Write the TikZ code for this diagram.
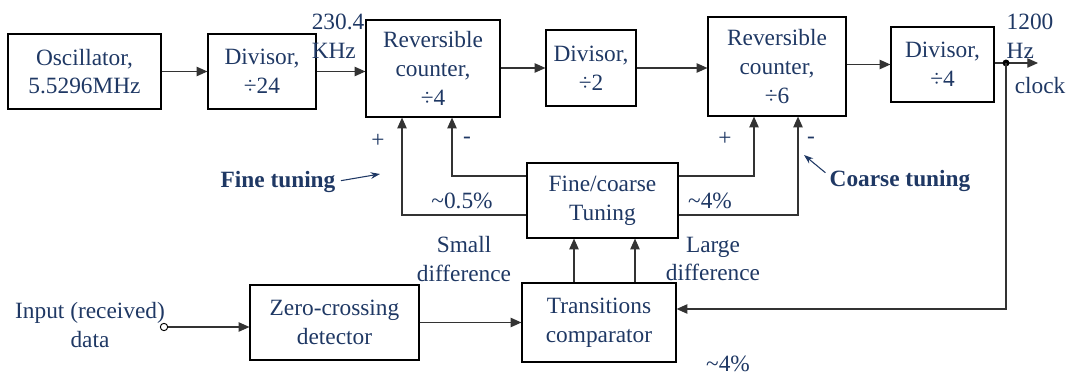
\documentclass[tikz,border=0pt]{standalone}
\usepackage{fontspec}
\setmainfont{Liberation Serif}
\newfontfamily\labelfont{Liberation Serif}
\usetikzlibrary{arrows.meta}
\definecolor{txtblue}{HTML}{1F3864}

\begin{document}
\begin{tikzpicture}[x=0.75pt,y=-0.75pt,
		every node/.style={text=txtblue,font=\labelfont\fontsize{17.5}{21.5}\selectfont},
		block/.style={draw=black,line width=0.9pt,align=center,inner sep=0pt},
		link/.style={draw=black!80,line width=0.8pt,-{Triangle[length=8pt,width=7pt]}},
		note/.style={align=center,inner sep=0pt},
		hint/.style={draw=txtblue,line width=0.8pt,-{Stealth[length=7pt,width=5pt]}}]

		\useasboundingbox (0,0) rectangle (1073,377);

		% Define the blocks
		\node[block,minimum width=114.75pt,minimum height=56.25pt] (osc) at (84.5,71.5) {Oscillator,\\5.5296MHz};
		\node[block,minimum width=81pt,minimum height=56.25pt] (div24) at (262,71.5) {Divisor,\\÷24};
		\node[block,minimum width=100.5pt,minimum height=72.75pt] (rc4) at (433,68.5) {Reversible\\counter,\\÷4};
		\node[block,minimum width=67.5pt,minimum height=57pt] (div2) at (591,68) {Divisor,\\÷2};
		\node[block,minimum width=103.5pt,minimum height=74.25pt] (rc6) at (777,66.5) {Reversible\\counter,\\÷6};
		\node[block,minimum width=77.25pt,minimum height=56.25pt] (div4) at (942.5,64.5) {Divisor,\\÷4};
		\node[block,minimum width=113.25pt,minimum height=56.25pt] (tune) at (602.5,200.5) {Fine/coarse\\Tuning};
		\node[block,minimum width=126.75pt,minimum height=56.25pt] (zcd) at (334.5,322.5) {Zero-crossing\\detector};
		\node[block,minimum width=115.5pt,minimum height=59.25pt] (comp) at (599,322.5) {Transitions\\comparator};

		% Define the coordinates of the bends
		\coordinate (tap) at (1006,63);
		\coordinate (clk) at (1038,63);
		\coordinate (fb) at (1006,309);
		\coordinate (P1) at (402,215);
		\coordinate (P2) at (452,176);
		\coordinate (P3) at (754,176);
		\coordinate (P4) at (798,215);
		\coordinate (Q1) at (574,270);
		\coordinate (Q2) at (635,270);

		% Input terminal
		\node[circle,draw=black,fill=white,line width=0.7pt,inner sep=0pt,minimum size=5.5pt] (in) at (164,327) {};

		% Draw the lines
		\draw[link] (osc) -- (div24);
		\draw[link] (div24.east) -- (div24.east -| rc4.west);
		\draw[link] (rc4.east |- div2) -- (div2.west);
		\draw[link] (div2) -- (div2 -| rc6.west);
		\draw[link] (rc6.east |- div4) -- (div4.west);
		\draw[link] (div4.east |- tap) -- (clk);
		\fill[black] (tap) circle (2.6pt);
		\draw[link] (tap) -- (fb) -- (fb -| comp.east);
		\draw[link] (tune.west |- P1) -| (P1 |- rc4.south);
		\draw[link] (tune.west |- P2) -| (P2 |- rc4.south);
		\draw[link] (tune.east |- P3) -| (P3 |- rc6.south);
		\draw[link] (tune.east |- P4) -| (P4 |- rc6.south);
		\draw[link] (comp.north -| Q1) -- (tune.south -| Q1);
		\draw[link] (comp.north -| Q2) -- (tune.south -| Q2);
		\draw[link] (in) -- (in -| zcd.west);
		\draw[link] (zcd.east) -- (zcd.east -| comp.west);

		% Labels
		\node[note,align=left] (fin) at (338,36) {230.4\\KHz};
		\node[note,align=left] (fout) at (1030,36) {1200\\Hz};
		\node[note] (clock) at (1040,86) {clock};
		\node[note] (input) at (90,325) {Input (received)\\data};
		\node[note] (small) at (464,259) {Small\\difference};
		\node[note] (large) at (713,259) {Large\\difference};
		\node[note] (fine) at (462,201) {\textasciitilde0.5\%};
		\node[note] (coarse) at (710,201) {\textasciitilde4\%};
		\node[note] (extra) at (728,364) {\textasciitilde4\%};
		\foreach \sgn/\x/\y in {+/378/141, -/467/140, +/725/139, -/811/140}
			\node[note] (sign\x) at (\x,\y) {\sgn};

		\node[note,font=\labelfont\fontsize{17.5}{21.5}\selectfont\bfseries] (finetxt) at (278,182) {Fine tuning};
		\node[note,font=\labelfont\fontsize{17.5}{21.5}\selectfont\bfseries] (coarsetxt) at (900,181) {Coarse tuning};
		\coordinate (fineend) at (380,174);
		\coordinate (coarseend) at (804,155);
		\draw[hint] (finetxt.east) ++(4pt,1pt) coordinate (finestart) (finestart) -- (fineend);
		\draw[hint] (coarsetxt.north west) ++(-3pt,-2pt) coordinate (coarsestart) (coarsestart) -- (coarseend);
	\end{tikzpicture}
\end{document}
